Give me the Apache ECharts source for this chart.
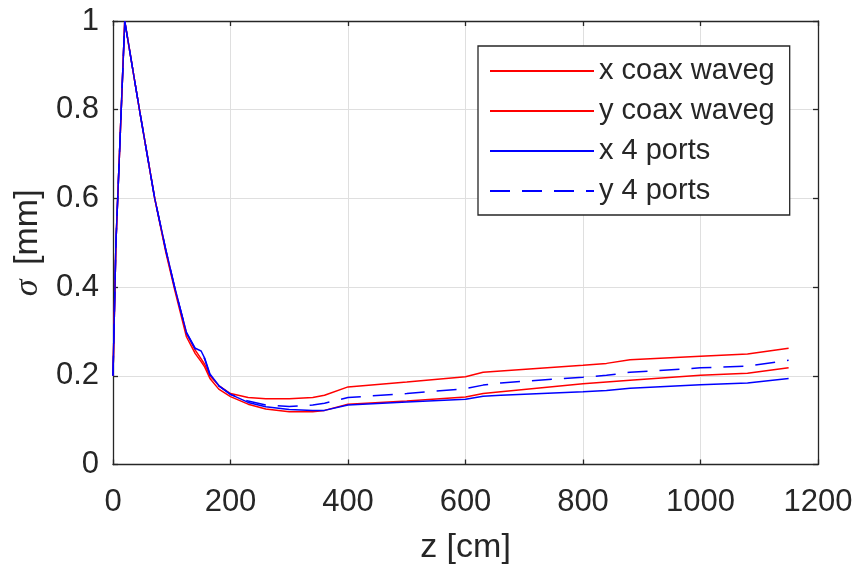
<!DOCTYPE html>
<html>
<head>
<meta charset="utf-8">
<script src="https://cdn.jsdelivr.net/npm/echarts@6/dist/echarts.min.js"></script>
<style>
  html, body { margin: 0; padding: 0; background: #fff; }
  #chart { width: 859px; height: 566px; }
</style>
</head>
<body>
<div id="chart"></div>
<script>
// Beam size along z for the two coupler layouts
const zPos = [0, 5, 20, 45, 71, 90, 105, 125, 140, 150, 156, 165, 180, 200, 230, 260, 300, 340, 360, 400, 500, 600, 630, 660, 800, 840, 880, 1000, 1080, 1150];
const xCoax = [0.2, 0.5, 1.0, 0.8, 0.6, 0.482, 0.398, 0.296, 0.258, 0.238, 0.226, 0.200, 0.178, 0.160, 0.151, 0.148, 0.148, 0.151, 0.156, 0.175, 0.186, 0.198, 0.208, 0.211, 0.224, 0.228, 0.236, 0.244, 0.249, 0.262];
const yCoax = [0.2, 0.5, 1.0, 0.8, 0.6, 0.478, 0.394, 0.288, 0.250, 0.232, 0.220, 0.194, 0.170, 0.153, 0.136, 0.125, 0.119, 0.119, 0.122, 0.136, 0.143, 0.152, 0.160, 0.164, 0.182, 0.186, 0.190, 0.201, 0.206, 0.218];
const x4Ports = [0.2, 0.5, 1.0, 0.8, 0.6, 0.484, 0.400, 0.298, 0.262, 0.256, 0.240, 0.204, 0.178, 0.158, 0.140, 0.130, 0.124, 0.122, 0.122, 0.134, 0.141, 0.147, 0.154, 0.156, 0.164, 0.167, 0.172, 0.180, 0.184, 0.194];
const y4Ports = [0.2, 0.5, 1.0, 0.8, 0.6, 0.483, 0.399, 0.297, 0.260, 0.252, 0.238, 0.202, 0.177, 0.158, 0.143, 0.134, 0.131, 0.134, 0.138, 0.151, 0.160, 0.171, 0.179, 0.184, 0.197, 0.201, 0.208, 0.218, 0.222, 0.235];
const seriesNames = ['x coax waveg', 'y coax waveg', 'x 4 ports', 'y 4 ports'];

const FONT = "'Liberation Sans', Arial, Helvetica, sans-serif";
const INK = '#262626';
const GRIDC = '#dfdfdf';

const pair = (ys) => zPos.map((z, i) => [z, ys[i]]);

const chart = echarts.init(document.getElementById('chart'), null, { renderer: 'canvas' });

const xBase = {
  type: 'value', min: 0, max: 1200, interval: 200,
  axisLine: { show: true, onZero: false, lineStyle: { color: INK, width: 1.3 } },
  axisTick: { show: true, inside: true, length: 5, lineStyle: { color: INK, width: 1.3 } },
};
const yBase = {
  type: 'value', min: 0, max: 1, interval: 0.2,
  axisLine: { show: true, onZero: false, lineStyle: { color: INK, width: 1.3 } },
  axisTick: { show: true, inside: true, length: 5, lineStyle: { color: INK, width: 1.3 } },
};

function line(name, data, color, dashed) {
  return {
    name: name, type: 'line', data: pair(data),
    xAxisIndex: 0, yAxisIndex: 0,
    symbol: 'none', smooth: false, animation: false,
    lineStyle: { color: color, width: 1.5, type: dashed ? [20, 12] : 'solid' },
    itemStyle: { color: color },
  };
}

chart.setOption({
  animation: false,
  backgroundColor: '#ffffff',
  grid: { left: 113, right: 41, top: 21, bottom: 101.5, containLabel: false, outerBoundsMode: 'none' },
  xAxis: [
    Object.assign({}, xBase, {
      position: 'bottom',
      name: 'z [cm]', nameLocation: 'middle', nameGap: 66,
      nameTextStyle: { fontFamily: FONT, fontSize: 34, color: INK },
      axisLabel: { show: true, margin: 22, fontFamily: FONT, fontSize: 31, color: INK,
                   formatter: (v) => String(v) },
      splitLine: { show: true, lineStyle: { color: GRIDC, width: 1 } },
    }),
    Object.assign({}, xBase, {
      position: 'top',
      axisLabel: { show: false },
      splitLine: { show: false },
    }),
  ],
  yAxis: [
    Object.assign({}, yBase, {
      position: 'left',
      name: '{s|σ} [mm]', nameLocation: 'middle', nameGap: 68,
      nameTextStyle: {
        fontFamily: FONT, fontSize: 34, color: INK,
        rich: { s: { fontFamily: "'Liberation Serif', 'DejaVu Serif', serif", fontStyle: 'italic',
                     fontSize: 34, color: INK, padding: [0, 5, 0, 0] } },
      },
      axisLabel: { show: true, margin: 14, fontFamily: FONT, fontSize: 31, color: INK },
      splitLine: { show: true, lineStyle: { color: GRIDC, width: 1 } },
    }),
    Object.assign({}, yBase, {
      position: 'right',
      axisLabel: { show: false },
      splitLine: { show: false },
    }),
  ],
  legend: {
    show: true, orient: 'vertical',
    left: 478, top: 46,
    padding: [10, 15, 9, 11],
    itemWidth: 104, itemHeight: 14, itemGap: 10,
    backgroundColor: '#ffffff',
    borderColor: INK, borderWidth: 1.3, borderRadius: 0,
    itemStyle: { opacity: 0 },
    textStyle: { fontFamily: FONT, fontSize: 29, color: INK, lineHeight: 30 },
    data: seriesNames,
  },
  series: [
    line(seriesNames[0], xCoax, '#ff0000', false),
    line(seriesNames[1], yCoax, '#ff0000', false),
    line(seriesNames[2], x4Ports, '#0000ff', false),
    line(seriesNames[3], y4Ports, '#0000ff', true),
  ],
});
</script>
</body>
</html>
